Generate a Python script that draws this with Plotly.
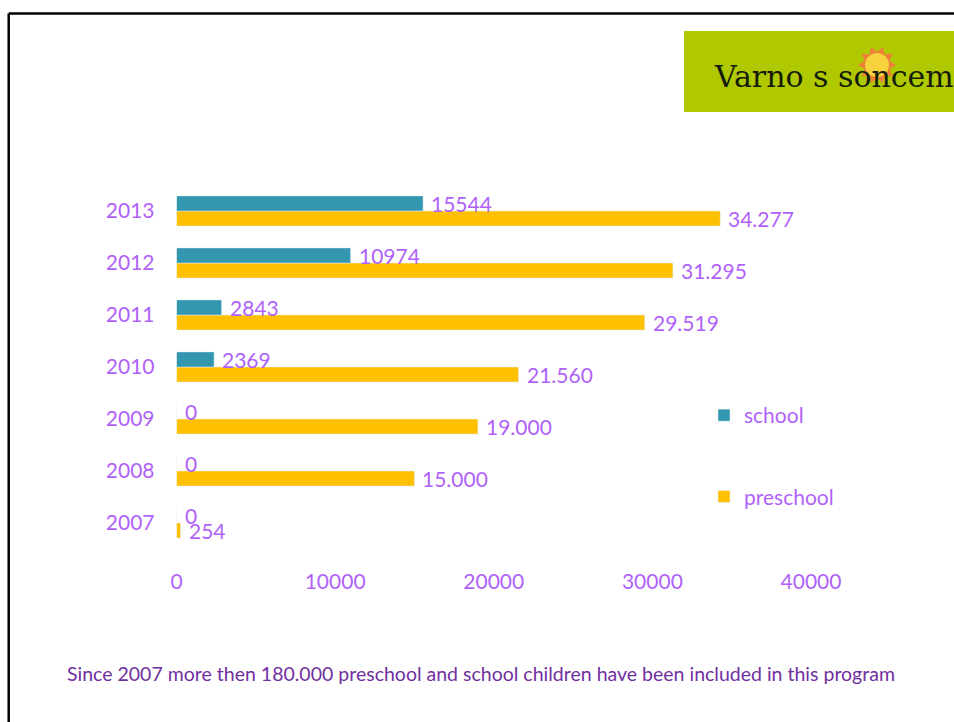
import math
import plotly.graph_objects as go

years = ["2007", "2008", "2009", "2010", "2011", "2012", "2013"]
preschool = [254, 15000, 19000, 21560, 29519, 31295, 34277]
school = [0, 0, 0, 2369, 2843, 10974, 15544]
preschool_labels = ["254", "15.000", "19.000", "21.560", "29.519", "31.295", "34.277"]
school_labels = ["0", "0", "0", "2369", "2843", "10974", "15544"]
x_ticks = [0, 10000, 20000, 30000, 40000]
footer = "Since 2007 more then 180.000 preschool and school children have been included in this program"
logo_text = "Varno s soncem"

W, H = 954, 722
PURPLE = "#B062FA"
TEAL = "#3497B0"
GOLD = "#FFC000"
FONT = "Lato, Carlito, sans-serif"


def px(x):
    return x / W


def py(y):
    return 1 - y / H


fig = go.Figure()
fig.add_bar(y=years, x=preschool, name="preschool", orientation="h", marker_color=GOLD,
            legendgroup="preschool", legendrank=2)
fig.add_bar(y=years, x=school, name="school", orientation="h", marker_color=TEAL,
            legendgroup="school", legendrank=1)

annotations = []
for i, (v, t) in enumerate(zip(preschool, preschool_labels)):
    annotations.append(dict(x=v, y=i, xref="x", yref="y", text=t, showarrow=False, xanchor="left",
                            xshift=6, yshift=-7, font=dict(color=PURPLE, size=21, family=FONT)))
for i, (v, t) in enumerate(zip(school, school_labels)):
    annotations.append(dict(x=v, y=i, xref="x", yref="y", text=t, showarrow=False, xanchor="left",
                            xshift=6, yshift=8, font=dict(color=PURPLE, size=21, family=FONT)))
annotations.append(dict(x=px(481), y=py(673), xref="paper", yref="paper", text=footer, showarrow=False,
                        yanchor="middle", font=dict(color="#7030A0", size=19.5, family=FONT)))
annotations.append(dict(x=px(712), y=py(77), xref="paper", yref="paper", text=logo_text, showarrow=False,
                        xanchor="left", yanchor="middle",
                        font=dict(color="#141C0A", size=30, family="DejaVu Serif")))

# Sun emblem in the banner
cx, cy, r_out, r_in = 877, 65, 19, 13
pts = []
for i in range(20):
    r = r_out if i % 2 == 0 else r_in
    a = math.pi * i / 10
    pts.append(f"{px(cx + r * math.cos(a)):.5f},{py(cy + r * math.sin(a)):.5f}")
star = "M" + " L".join(pts) + " Z"

shapes = [
    dict(type="rect", xref="paper", yref="paper", x0=px(684), x1=px(954), y0=py(31), y1=py(112),
         fillcolor="#B0C800", line_width=0, layer="below"),
    dict(type="path", xref="paper", yref="paper", path=star, fillcolor="#EE7F3A", line_width=0, layer="below"),
    dict(type="circle", xref="paper", yref="paper", x0=px(cx - 12), x1=px(cx + 12), y0=py(cy - 12), y1=py(cy + 12),
         fillcolor="#F6D33C", line_width=0, layer="below"),
    dict(type="line", xref="paper", yref="paper", x0=px(8.7), x1=px(954), y0=py(13.5), y1=py(13.5),
         line=dict(color="black", width=2.5)),
    dict(type="line", xref="paper", yref="paper", x0=px(8.7), x1=px(8.7), y0=py(13.5), y1=py(722),
         line=dict(color="black", width=2.5)),
]

fig.update_layout(
    width=W, height=H, margin=dict(l=0, r=0, t=0, b=0),
    paper_bgcolor="white", plot_bgcolor="white",
    barmode="group", bargap=0.42, bargroupgap=0,
    font=dict(family=FONT, color=PURPLE, size=21),
    xaxis=dict(domain=[px(176.5), px(811)], range=[0, 40000], tickvals=x_ticks, tickformat="d", automargin=False,
               showgrid=False, zeroline=False, showline=False, ticks="", ticklabelstandoff=18),
    yaxis=dict(domain=[py(549), py(185)], type="category", range=[-0.5, 6.5], automargin=False, showgrid=False,
               zeroline=False, showline=False, ticks="", ticklabelstandoff=21),
    legend=dict(x=px(704), y=py(395), xanchor="left", yanchor="top", traceorder="grouped",
                tracegroupgap=51, bgcolor="rgba(0,0,0,0)", font=dict(size=21, color=PURPLE, family=FONT)),
    annotations=annotations, shapes=shapes,
)
# Remove the browser's default body margin so the figure fills the window exactly
fig.write_html("out.html", config={"displayModeBar": False},
               post_script="document.body.style.margin='0';")
